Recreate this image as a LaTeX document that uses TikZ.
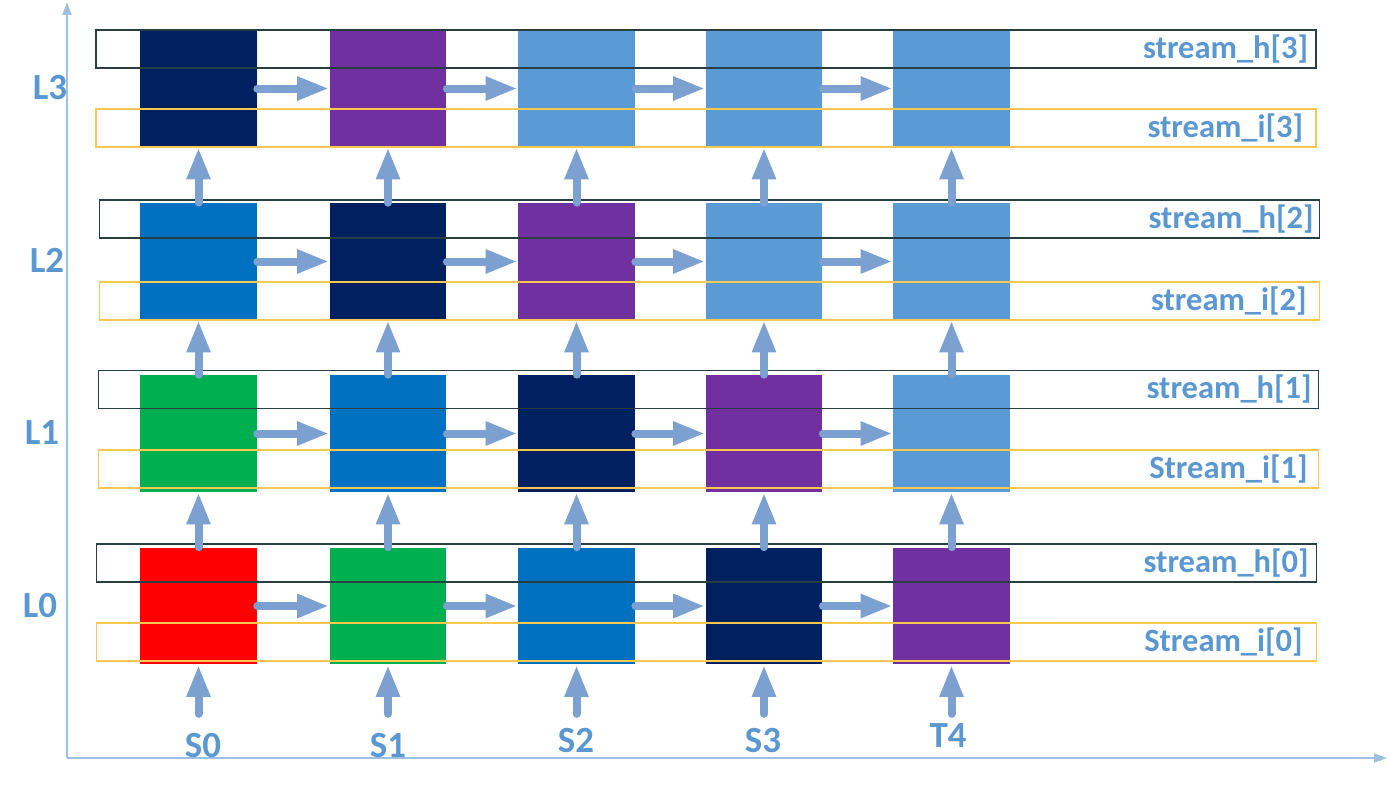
\documentclass[tikz,border=0pt]{standalone}
\usepackage{fontspec}
\setmainfont{Carlito}
\usepackage{xcolor}
\usepackage{tikz}
\usetikzlibrary{arrows.meta}
\usetikzlibrary{positioning}
\definecolor{tone0}{RGB}{255, 0, 0}
\definecolor{tone1}{RGB}{0, 176, 80}
\definecolor{tone2}{RGB}{0, 112, 192}
\definecolor{tone3}{RGB}{0, 32, 96}
\definecolor{tone4}{RGB}{112, 48, 160}
\definecolor{tone5}{RGB}{91, 155, 213}
\colorlet{tone6}{tone5}
\colorlet{tone7}{tone5}
\definecolor{flowblue}{RGB}{124, 160, 208}
\definecolor{textblue}{RGB}{91, 152, 210}
\definecolor{axisblue}{RGB}{160, 192, 226}
\definecolor{hline}{RGB}{40, 62, 66}
\definecolor{iline}{RGB}{247, 200, 80}
\tikzset{
cell/.style = { rectangle, draw = none, minimum size = 2.34cm, inner sep = 0pt },
h band/.style = { rectangle, draw = hline, line width = 0.8pt, minimum width = 24.4cm, minimum height = 0.76cm, inner sep = 0pt },
i band/.style = { rectangle, draw = iline, line width = 0.8pt, minimum width = 24.4cm, minimum height = 0.76cm, inner sep = 0pt },
band text/.style = { textblue, font = \fontsize{18.5}{22}\selectfont\bfseries, inner sep = 0pt, anchor = east },
axis text/.style = { textblue, font = \fontsize{21}{25}\selectfont\bfseries, inner sep = 0pt },
flow/.style = { draw = flowblue, line width = 0.16cm, line cap = round, -{Triangle[length = 0.64cm, width = 0.44cm]} },
axis/.style = { draw = axisblue, line width = 1.1pt, -{Triangle[length = 0.26cm, width = 0.18cm]} },
}

\begin{document}
\begin{tikzpicture}[x = 0.02cm, y = -0.02cm]
    \useasboundingbox (0, 0) rectangle (1389, 788);
    % axes
    \coordinate (o) at (67, 758);
    \coordinate (xe) at (1387, 758);
    \coordinate (ye) at (67, 2);
    \draw[axis] (o) -- (xe);
    \draw[axis] (o) -- (ye);
    % cells, colour shifts one step per layer
    \foreach \r/\y in {0/606, 1/433.5, 2/261.5, 3/88.5} {
        \foreach \c/\x in {0/198.5, 1/388, 2/576.5, 3/764, 4/951.5} {
            \pgfmathtruncatemacro\k{\r + \c}
            \node[cell, fill = tone\k] (b\r\c) at (\x, \y) {};
        }
    }
    % streams
    \node[h band] (h3) at (706, 49) {};
    \node[i band] (i3) at (706, 128) {};
    \node[h band] (h2) at (709.5, 219) {};
    \node[i band] (i2) at (709.5, 301) {};
    \node[h band] (h1) at (708.5, 389.5) {};
    \node[i band] (i1) at (708.5, 469) {};
    \node[h band] (h0) at (706.5, 563) {};
    \node[i band] (i0) at (706.5, 642) {};
    \node[band text] (th3) at ([xshift = -0.16cm]h3.east) {stream\_h[3]};
    \node[band text] (ti3) at ([xshift = -0.26cm]i3.east) {stream\_i[3]};
    \node[band text] (th2) at ([xshift = -0.12cm]h2.east) {stream\_h[2]};
    \node[band text] (ti2) at ([xshift = -0.26cm]i2.east) {stream\_i[2]};
    \node[band text] (th1) at ([xshift = -0.14cm]h1.east) {stream\_h[1]};
    \node[band text] (ti1) at ([xshift = -0.22cm]i1.east) {Stream\_i[1]};
    \node[band text] (th0) at ([xshift = -0.16cm]h0.east) {stream\_h[0]};
    \node[band text] (ti0) at ([xshift = -0.28cm]i0.east) {Stream\_i[0]};
    % layers and steps
    \node[axis text] (l3) at (50, 88) {L3};
    \node[axis text] (l2) at (47, 260) {L2};
    \node[axis text] (l1) at (42, 433) {L1};
    \node[axis text] (l0) at (40, 606) {L0};
    \node[axis text] (s0) at (203, 746) {S0};
    \node[axis text] (s1) at (388, 746) {S1};
    \node[axis text] (s2) at (576, 741) {S2};
    \node[axis text] (s3) at (763, 740.5) {S3};
    \node[axis text] (t4) at (948, 736) {T4};
    % flows
    \foreach \c in {0, 1, 2, 3, 4} {
        \draw[flow] ([yshift = -0.98cm]b0\c.south) -- (b0\c.south);
    }
    \foreach \r [evaluate = \r as \n using int(\r + 1)] in {0, 1, 2} {
        \foreach \c in {0, 1, 2, 3, 4} {
            \draw[flow] (b\r\c.north) -- (b\n\c.south);
        }
    }
    \foreach \r in {0, 1, 2, 3} {
        \foreach \c [evaluate = \c as \n using int(\c + 1)] in {0, 1, 2, 3} {
            \draw[flow] (b\r\c.east) -- (b\r\n.west);
        }
    }
  \end{tikzpicture}
\end{document}
